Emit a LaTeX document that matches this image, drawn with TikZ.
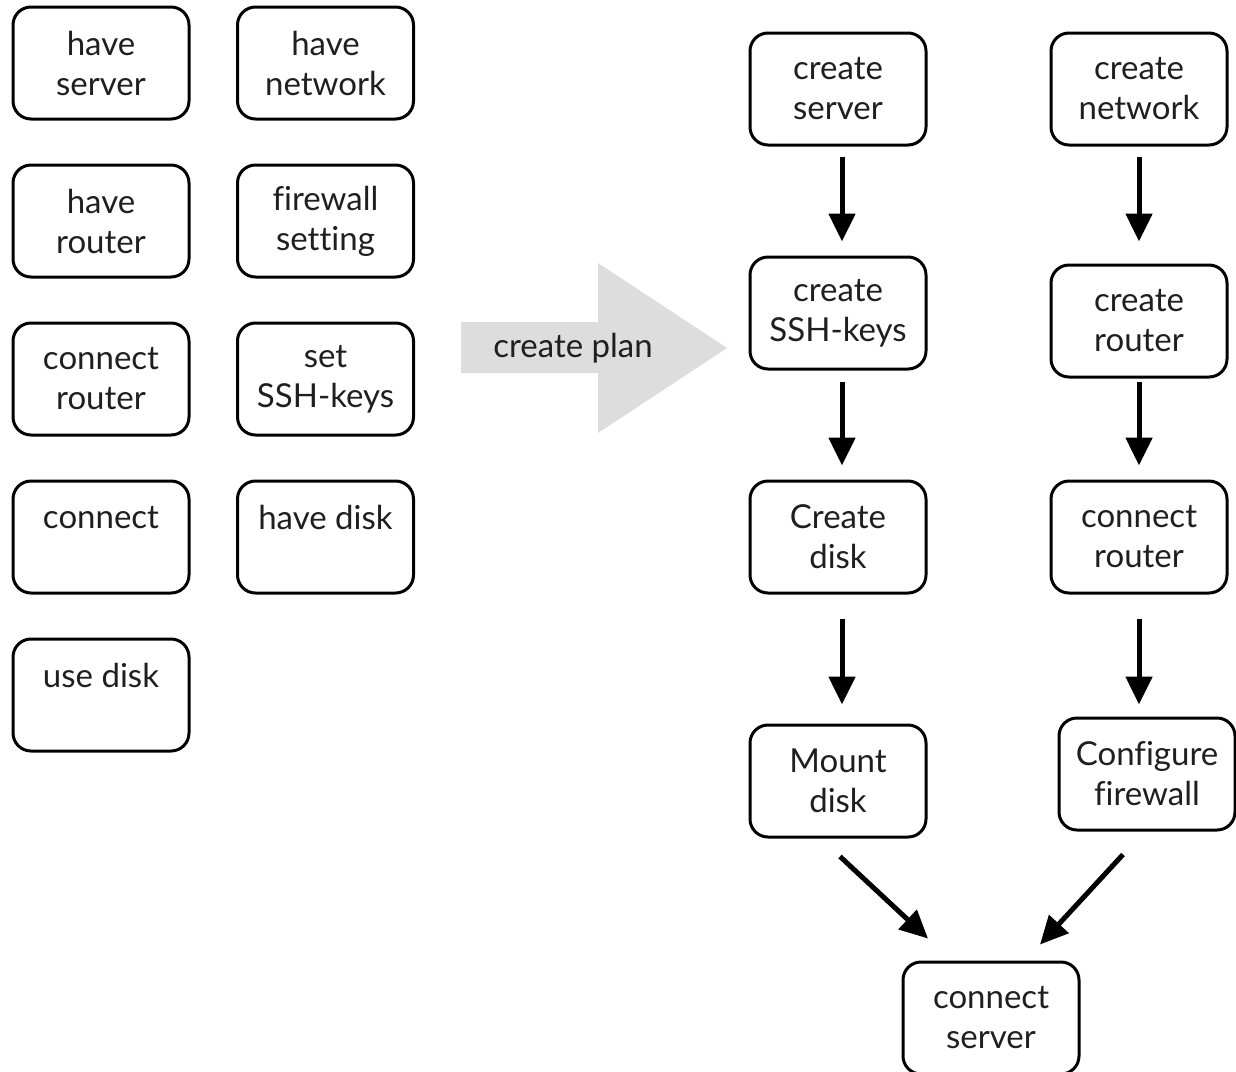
\documentclass[tikz,border=0pt]{standalone}
\usepackage{fontspec}
\setmainfont[Ligatures=NoCommon]{Lato}
\usetikzlibrary{arrows.meta}
\usetikzlibrary{positioning}

\definecolor{plangray}{HTML}{DDDDDD}

\begin{document}
\begin{tikzpicture}[x=0.5pt, y=-0.5pt,
    taskbox/.style={draw=black, line width=1.5pt, rounded corners=9pt, minimum width=88pt, minimum height=56pt, align=center, text=black!88, font=\fontsize{16.5}{20}\selectfont},
    flow/.style={-{Triangle[length=14pt,width=13pt]}, line width=2.5pt}
]
    \useasboundingbox (0,0) rectangle (1236,1071);

    % Unordered tasks
    % - first column
    \node at (101, 63) [taskbox](have_server){have\\server};
    \node at (101, 221) [taskbox](have_router){have\\router};
    \node at (101, 379) [taskbox](connect_router){connect\\router};
    \node at (101, 537) [taskbox](connect){connect\\~};
    \node at (101, 695) [taskbox](use_disk){use disk\\~};
    % - second column
    \node at (325.5, 63) [taskbox](have_network){have\\network};
    \node at (325.5, 221) [taskbox](fw_setting){firewall\\setting};
    \node at (325.5, 379) [taskbox](set_keys){set\\SSH-keys};
    \node at (325.5, 537) [taskbox](have_disk){have disk\\~};

    % Big arrow
    \fill [plangray] (461, 322) -- (598, 322) -- (598, 263) -- (727, 348) -- (598, 433) -- (598, 373) -- (461, 373) -- cycle;
    \node at (573, 348) [text=black!88, font=\fontsize{16.5}{20}\selectfont](plan){create plan};

    % Plan
    % - server branch
    \node at (838, 89) [taskbox](c_server){create\\server};
    \node at (838, 313) [taskbox](c_keys){create\\SSH-keys};
    \node at (838, 537) [taskbox](c_disk){Create\\disk};
    \node at (838, 781) [taskbox](m_disk){Mount\\disk};
    % - network branch
    \node at (1139, 89) [taskbox](c_network){create\\network};
    \node at (1139, 321) [taskbox](c_router){create\\router};
    \node at (1139, 537) [taskbox](cn_router){connect\\router};
    \node at (1147, 774) [taskbox](fwall){Configure\\firewall};
    % - final step
    \node at (991, 1018) [taskbox](cn_server){connect\\server};

    % -- Arrows between steps
    \draw [flow, shorten <=5pt, shorten >=7pt] ([xshift=2pt]c_server.south) -- ([xshift=2pt]c_keys.north);
    \draw [flow, shorten <=5.5pt, shorten >=7pt] ([xshift=2pt]c_keys.south) -- ([xshift=2pt]c_disk.north);
    \draw [flow, shorten <=12pt, shorten >=9.5pt] ([xshift=2pt]c_disk.south) -- ([xshift=2pt]m_disk.north);
    \draw [flow, shorten <=5pt, shorten >=11pt] (c_network.south) -- (c_router.north);
    \draw [flow, shorten <=1.5pt, shorten >=7pt] (c_router.south) -- (cn_router.north);
    \draw [flow, shorten <=12pt, shorten >=6pt] (cn_router.south) -- (cn_router.south |- fwall.north);
    \draw [flow] ([shift={(2,18)}]m_disk.south) -- ([shift={(-63,-22)}]cn_server.north);
    \draw [flow] ([shift={(-24,23)}]fwall.south) -- ([shift={(49,-16)}]cn_server.north);
\end{tikzpicture}
\end{document}
